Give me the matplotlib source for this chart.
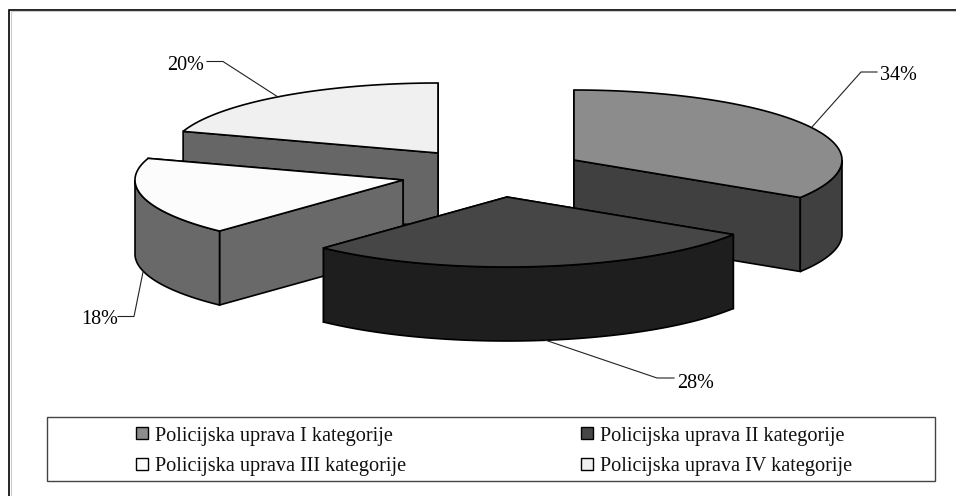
import numpy as np
import matplotlib
matplotlib.use("Agg")
import matplotlib.pyplot as plt
from matplotlib.patches import Polygon, Rectangle

plt.rcParams['font.family'] = ['Liberation Serif', 'DejaVu Serif']

categories = ["Policijska uprava I kategorije", "Policijska uprava II kategorije",
              "Policijska uprava III kategorije", "Policijska uprava IV kategorije"]
shares = [34, 28, 18, 20]
labels = ["34%", "28%", "18%", "20%"]

top_colors = ["#8c8c8c", "#464646", "#fcfcfc", "#f0f0f0"]
side_colors = ["#404040", "#1e1e1e", "#696969", "#666666"]
apex_x = [574, 507, 403, 438]
apex_y = [160, 197, 180, 153]
RX, RY, DEPTH = 268, 70, 74
draw_order = [3, 2, 0, 1]

W, H = 956, 496
fig = plt.figure(figsize=(W / 100, H / 100), dpi=100)
ax = fig.add_axes([0, 0, 1, 1])
ax.set_xlim(0, W)
ax.set_ylim(H, 0)
ax.axis('off')
lw = 1.2


def arc(cx, cy, a0, a1):
    t = np.radians(np.linspace(a0, a1, 120))
    return cx + RX * np.sin(t), cy - RY * np.cos(t)


def poly(xs, ys, color):
    ax.add_patch(Polygon(np.column_stack([xs, ys]), closed=True, facecolor=color,
                         edgecolor='black', linewidth=lw, joinstyle='miter'))


edges = np.concatenate([[0], np.cumsum(shares)]) * 3.6

for i in draw_order:
    a0, a1 = edges[i], edges[i + 1]
    cx, cy = apex_x[i], apex_y[i]
    c = side_colors[i]
    # radial walls, the one further back first
    ends = [arc(cx, cy, a, a) for a in (a0, a1)]
    ends.sort(key=lambda e: e[1][0])
    for ex, ey in ends:
        poly([cx, ex[0], ex[0], cx], [cy, ey[0], ey[0] + DEPTH, cy + DEPTH], c)
    # curved outer wall: only the part facing the viewer (90..270 degrees)
    lo, hi = max(a0, 90), min(a1, 270)
    if hi > lo:
        px, py = arc(cx, cy, lo, hi)
        poly(np.r_[px, px[::-1]], np.r_[py, py[::-1] + DEPTH], c)
    # top face
    px, py = arc(cx, cy, a0, a1)
    poly(np.r_[cx, px], np.r_[cy, py], top_colors[i])

# leader lines and labels
leaders = [([812, 861, 877], [127, 72, 72]),
           ([545, 657, 674], [340, 378, 378]),
           ([143, 134, 118], [272, 316.5, 316.5]),
           ([278, 223, 207], [97, 61.5, 61.5])]
label_pos = [(880, 76), (677, 383), (81, 320), (167, 66)]
for (lx, ly), t, (tx, ty) in zip(leaders, labels, label_pos):
    ax.plot(lx, ly, color='#222222', lw=0.8, solid_joinstyle='miter')
    ax.text(tx, ty, t, fontsize=14.5, va='center', ha='left', color='black')

# outer frame: only the top and left rules exist in the reference
ax.plot([9.5, 9.5, 956], [496, 9.5, 9.5], color='black', lw=1.2, solid_joinstyle='miter')
ax.plot([11, 11, 956], [496, 11, 11], color='#cccccc', lw=0.8, solid_joinstyle='miter')

# legend
ax.add_patch(Rectangle((47, 417), 888, 64, facecolor='white', edgecolor='#444444', linewidth=1))
leg_x = [136, 581, 136, 581]
leg_y = [433, 433, 464, 464]
for x, y, c, t in zip(leg_x, leg_y, top_colors, categories):
    ax.add_patch(Rectangle((x, y - 6), 12, 12, facecolor=c, edgecolor='black', linewidth=1))
    ax.text(x + 19.5, y + 3, t, fontsize=14.6, va='center', ha='left', color='#111111')

fig.savefig("out.png", dpi=100, facecolor='white')
